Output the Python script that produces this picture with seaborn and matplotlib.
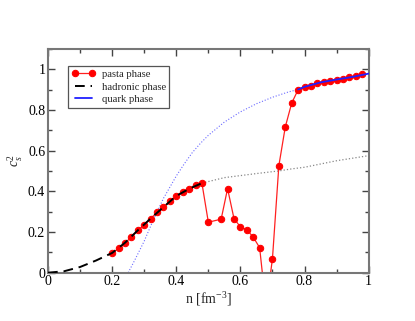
import numpy as np
import pandas as pd
import matplotlib
matplotlib.use("Agg")
import matplotlib.pyplot as plt
import seaborn as sns
from matplotlib.ticker import MultipleLocator

# pasta phase points
n_pasta = [0.20, 0.22, 0.24, 0.26, 0.28, 0.30, 0.32, 0.34, 0.36, 0.38, 0.40,
           0.42, 0.44, 0.46, 0.48, 0.50, 0.54, 0.56, 0.58, 0.60, 0.62, 0.64,
           0.66, 0.68, 0.70, 0.72, 0.74, 0.76, 0.78, 0.80, 0.82, 0.84, 0.86,
           0.88, 0.90, 0.92, 0.94, 0.96, 0.98]
cs2_pasta = [0.095, 0.119, 0.145, 0.176, 0.208, 0.235, 0.266, 0.296, 0.322, 0.351, 0.377,
             0.397, 0.410, 0.433, 0.440, 0.248, 0.263, 0.413, 0.266, 0.225, 0.211, 0.175,
             0.123, -0.17, 0.069, 0.526, 0.716, 0.833, 0.899, 0.913, 0.918, 0.933, 0.938,
             0.943, 0.949, 0.954, 0.959, 0.966, 0.975]

# hadronic phase (stable part, dashed)
n_had = [0.0, 0.05, 0.10, 0.15, 0.20, 0.24, 0.28, 0.32, 0.36, 0.40, 0.44, 0.48]
cs2_had = [0.0, 0.007, 0.028, 0.060, 0.097, 0.147, 0.208, 0.266, 0.322, 0.377, 0.412, 0.440]

# hadronic phase continuation (dotted gray)
n_had_ext = [0.48, 0.55, 0.65, 0.72, 0.76, 0.80, 0.90, 1.00]
cs2_had_ext = [0.440, 0.467, 0.487, 0.500, 0.510, 0.518, 0.550, 0.575]

# quark phase (metastable dotted part, stable solid part)
n_quark = [0.25, 0.27, 0.30, 0.33, 0.36, 0.40, 0.425, 0.45, 0.475, 0.50, 0.55,
           0.60, 0.65, 0.70, 0.75, 0.78]
cs2_quark = [0.0, 0.06, 0.155, 0.265, 0.365, 0.475, 0.535, 0.59, 0.635, 0.675, 0.74,
             0.79, 0.83, 0.862, 0.888, 0.90]
n_quark_st = [0.78, 0.80, 0.85, 0.90, 0.95, 1.00]
cs2_quark_st = [0.900, 0.913, 0.935, 0.949, 0.962, 0.978]

x_ticks = [0, 0.2, 0.4, 0.6, 0.8, 1.0]
x_ticklabels = ['0', '0.2', '0.4', '0.6', '0.8', '1']
y_ticks = [0, 0.2, 0.4, 0.6, 0.8, 1.0]
y_ticklabels = ['0', '0.2', '0.4', '0.6', '0.8', '1']

sns.set_style("ticks")
plt.rcParams['font.family'] = ['Liberation Serif', 'DejaVu Serif']
plt.rcParams['mathtext.fontset'] = 'custom'
plt.rcParams['mathtext.rm'] = 'Liberation Serif'
plt.rcParams['mathtext.it'] = 'Liberation Serif:italic'

fig = plt.figure(figsize=(4.15, 3.21), dpi=100)
ax = fig.add_axes([0.1157, 0.1505, 0.7726, 0.6975])

pasta = pd.DataFrame({'n': n_pasta, 'cs2': cs2_pasta})
sns.lineplot(data=pasta, x='n', y='cs2', ax=ax, color='#ff2020', lw=0.9,
             marker='o', markersize=4.6, markerfacecolor='red', markeredgecolor='red',
             sort=False, estimator=None, label='pasta phase', zorder=2)

had = pd.DataFrame({'n': n_had, 'cs2': cs2_had})
sns.lineplot(data=had, x='n', y='cs2', ax=ax, color='black', lw=1.4,
             sort=False, estimator=None, label='hadronic phase', zorder=3)
ax.lines[-1].set_dashes([5, 3])

had_ext = pd.DataFrame({'n': n_had_ext, 'cs2': cs2_had_ext})
sns.lineplot(data=had_ext, x='n', y='cs2', ax=ax, color='#888888', lw=0.9,
             sort=False, estimator=None, zorder=1)
ax.lines[-1].set_linestyle(':')

qk = pd.DataFrame({'n': n_quark, 'cs2': cs2_quark})
sns.lineplot(data=qk, x='n', y='cs2', ax=ax, color='#6a6aff', lw=0.8,
             sort=False, estimator=None, zorder=1)
ax.lines[-1].set_linestyle(':')

qk_st = pd.DataFrame({'n': n_quark_st, 'cs2': cs2_quark_st})
sns.lineplot(data=qk_st, x='n', y='cs2', ax=ax, color='#2020ff', lw=1.3,
             sort=False, estimator=None, label='quark phase', zorder=3)

ax.set_xlim(0, 1)
ax.set_ylim(0, 1.1)
ax.set_xticks(x_ticks, x_ticklabels)
ax.set_yticks(y_ticks, y_ticklabels)
ax.xaxis.set_minor_locator(MultipleLocator(0.1))
ax.yaxis.set_minor_locator(MultipleLocator(0.1))
ax.tick_params(which='both', direction='in', top=True, right=True, colors='#444444',
               labelcolor='black', labelsize=10, pad=2)
ax.tick_params(which='major', length=5, width=1)
ax.tick_params(which='minor', length=3, width=1)
for s in ax.spines.values():
    s.set_color('#777777')
    s.set_linewidth(1.5)

ax.set_xlabel(r'n [fm$^{-3}$]', fontsize=10, labelpad=1)
ax.set_ylabel(r'$c_s^2$', fontsize=10, labelpad=2)

handles, labels = ax.get_legend_handles_labels()
leg = ax.legend(handles, labels, loc='upper left', bbox_to_anchor=(0.062, 0.925),
                borderaxespad=0, fancybox=False, framealpha=1, edgecolor='#555555',
                fontsize=7.7, numpoints=2, handlelength=2.2, labelspacing=0.3,
                borderpad=0.35, handletextpad=0.6)
leg.get_frame().set_linewidth(0.9)

fig.savefig('out.png', dpi=100)
